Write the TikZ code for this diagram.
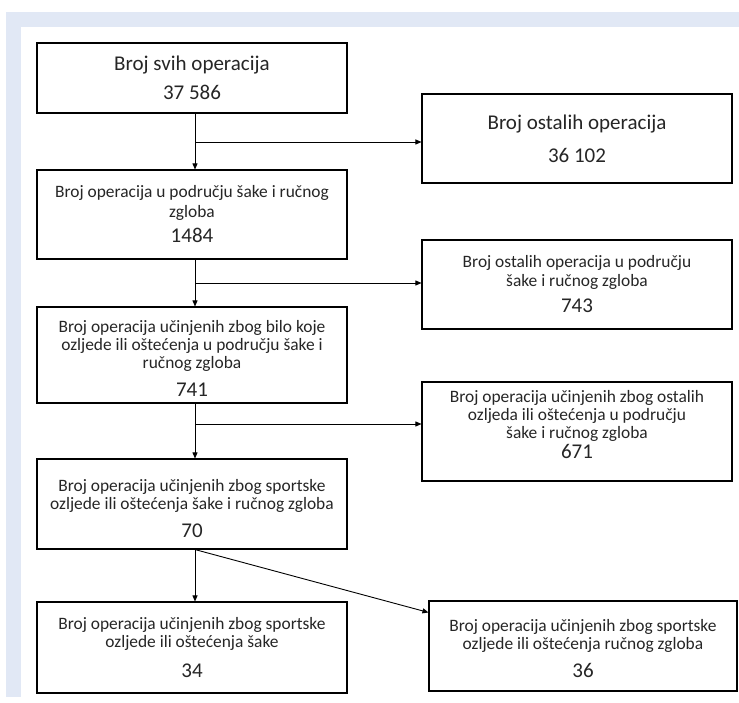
\documentclass[tikz,border=0pt]{standalone}
\usepackage{fontspec}
\setmainfont{Carlito}
\usetikzlibrary{positioning,calc}
\usetikzlibrary{arrows.meta}
\definecolor{bandblue}{RGB}{225,232,245}
\newcommand{\bigtxt}{\fontsize{21}{22}\selectfont}
\newcommand{\smalltxt}{\fontsize{17.4}{18}\selectfont}
\newcommand{\topstrut}[1]{\rule{0pt}{#1}}

\begin{document}
\begin{tikzpicture}[x=1pt,y=-1pt,on grid,
    box/.style={draw,line width=1.1pt,minimum width=310pt,inner sep=0pt,align=center,font=\smalltxt,text=black!85},
    flow/.style={line width=0.9pt,-{Triangle[length=6pt,width=5pt]}}]
   % background band
   \fill[white] (0,0) rectangle (739,703);
   \fill[bandblue] (6,12) rectangle (739,27);
   \fill[bandblue] (6,27) rectangle (21,697);
   \useasboundingbox (0,0) rectangle (739,703);

   \node[box,minimum height=70pt,font=\bigtxt] (b_0) at (192,78) {Broj svih operacija\\[7pt]37 586};
   \node[box,minimum height=89pt] (b_1) [below=136.5pt of b_0] {Broj operacija u području šake i ručnog\\[2pt]zgloba\\[7pt]{\bigtxt 1484}};
   \node[box,minimum height=96pt] (b_2) [below=140.5pt of b_1] {\topstrut{19pt}Broj operacija učinjenih zbog bilo koje\\ozljede ili oštećenja u području šake i\\ručnog zgloba\\[10pt]{\bigtxt 741}};
   \node[box,minimum height=90pt] (b_3) [below=149pt of b_2] {\topstrut{22pt}Broj operacija učinjenih zbog sportske\\ozljede ili oštećenja šake i ručnog zgloba\\[10pt]{\bigtxt 70}};
   \node[box,minimum height=91pt] (b_4) [below=143.5pt of b_3] {Broj operacija učinjenih zbog sportske\\ozljede ili oštećenja šake\\[12pt]{\bigtxt 34}};

   \node[box,minimum height=89pt,font=\bigtxt] (s_1) [below right=60.5pt and 385pt of b_0] {Broj ostalih operacija\\[11pt]36 102};
   \node[box,minimum height=89pt] (s_2) [below right=70pt and 385pt of b_1] {Broj ostalih operacija u području\\[1pt]šake i ručnog zgloba\\[8pt]{\bigtxt 743}};
   \node[box,minimum height=99pt,text depth=14pt] (s_3) [below right=76.5pt and 385pt of b_2] {Broj operacija učinjenih zbog ostalih\\ozljeda ili oštećenja u području\\šake i ručnog zgloba\\[2pt]{\bigtxt 671}};
   \node[box,minimum height=90pt,minimum width=308pt] (s_4) [above right=1.5pt and 391pt of b_4] {\topstrut{18pt}Broj operacija učinjenih zbog sportske\\ozljede ili oštećenja ručnog zgloba\\[10pt]{\bigtxt 36}};

   \coordinate (j_1) at (195,142);
   \coordinate (j_2) at (195,283);
   \coordinate (j_3) at (195,424);
   \coordinate (j_4) at ($(s_4.north west)+(0,12)$);

   \path[flow]
    (b_0.south -| j_1) edge (b_1.north -| j_1)
    (j_1) edge (s_1.west |- j_1)
    (b_1.south -| j_2) edge (b_2.north -| j_2)
    (j_2) edge (s_2.west |- j_2)
    (b_2.south -| j_3) edge (b_3.north -| j_3)
    (j_3) edge (s_3.west |- j_3)
    (b_3.south -| j_1) edge (b_4.north -| j_1)
    (b_3.south -| j_1) edge (j_4);
\end{tikzpicture}
\end{document}
